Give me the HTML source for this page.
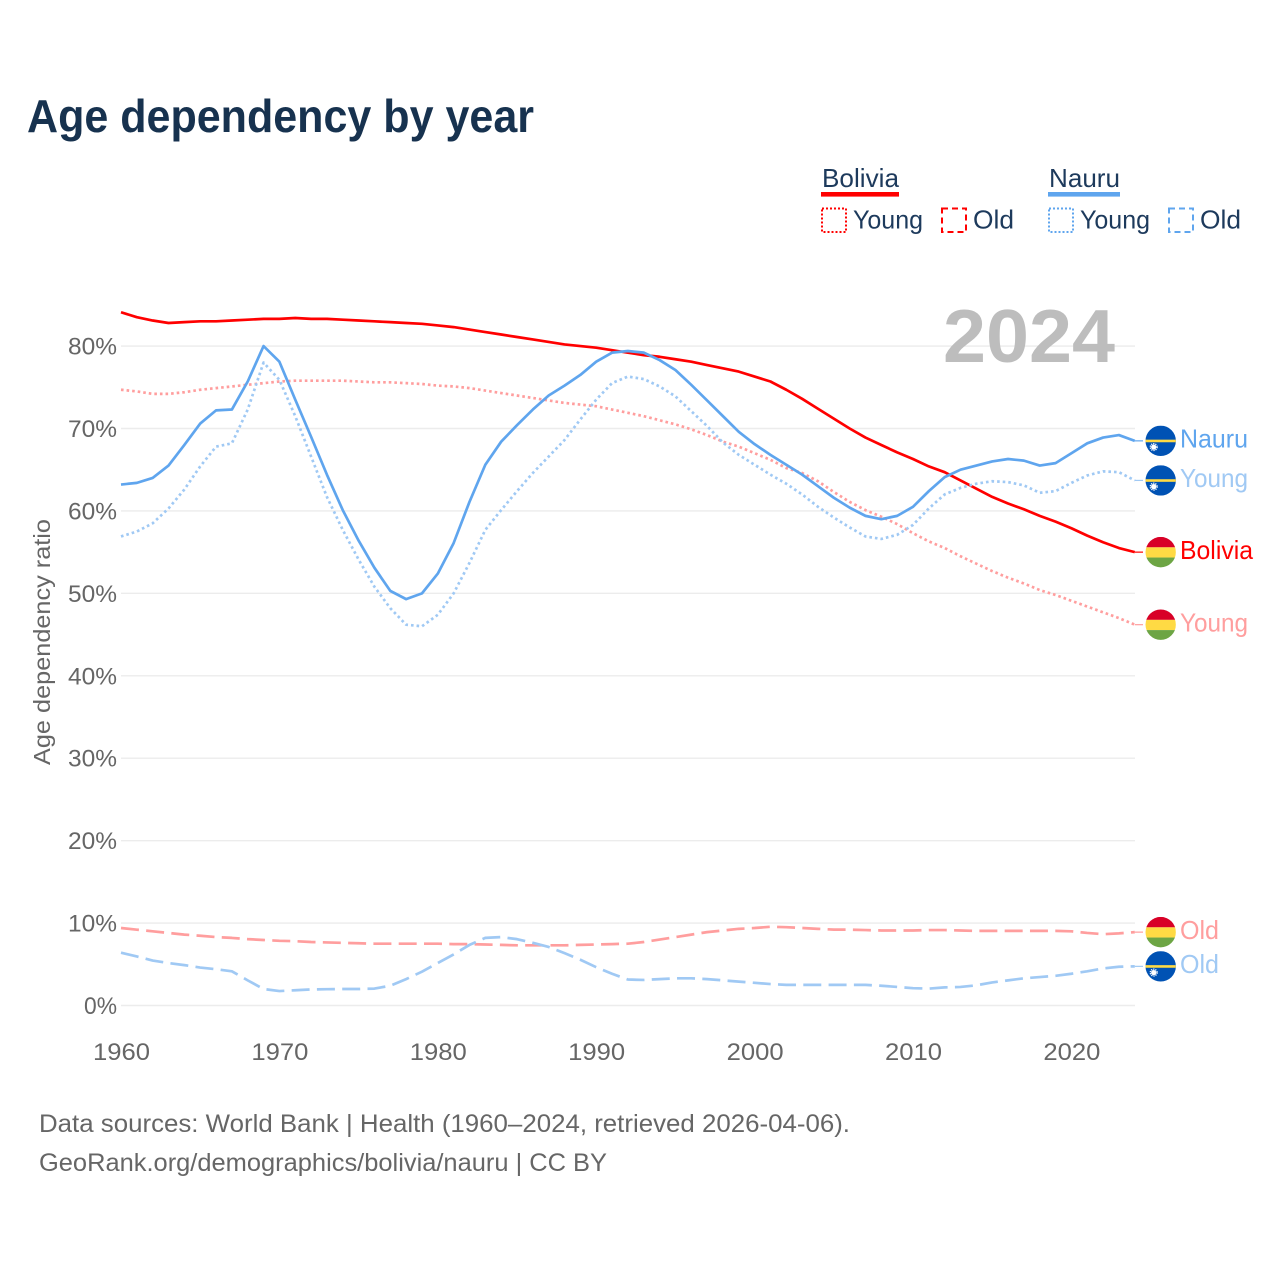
<!DOCTYPE html>
<html lang="en">
<head>
<meta charset="utf-8">
<title>Age dependency by year</title>
<style>
html,body{margin:0;padding:0;background:#fff;}
svg{display:block;font-family:"Liberation Sans",sans-serif;}
</style>
</head>
<body>
<svg id="chart" xmlns="http://www.w3.org/2000/svg" width="1280" height="1280" viewBox="0 0 1280 1280">
  <rect x="0" y="0" width="1280" height="1280" fill="#fff"/>
  <text x="27" y="132" font-size="46" font-weight="700" fill="#17324f" textLength="507" lengthAdjust="spacingAndGlyphs">Age dependency by year</text>

  <g font-size="26" fill="#1d3a5c">
    <text x="822" y="187" textLength="77" lengthAdjust="spacingAndGlyphs">Bolivia</text>
    <rect x="821" y="192" width="78" height="4.6" fill="#ff0000"/>
    <rect x="822" y="208.5" width="24" height="23.5" fill="none" stroke="#ff0000" stroke-width="2" stroke-dasharray="2 2"/>
    <text x="853" y="228.5" textLength="70" lengthAdjust="spacingAndGlyphs">Young</text>
    <rect x="942" y="208.5" width="24" height="23.5" fill="none" stroke="#ff0000" stroke-width="2" stroke-dasharray="6 4"/>
    <text x="973" y="228.5" textLength="41" lengthAdjust="spacingAndGlyphs">Old</text>
    <text x="1049" y="187" textLength="71" lengthAdjust="spacingAndGlyphs">Nauru</text>
    <rect x="1048" y="192" width="72" height="4.6" fill="#5fa5ee"/>
    <rect x="1049" y="208.5" width="24" height="23.5" fill="none" stroke="#5fa5ee" stroke-width="2" stroke-dasharray="2 2"/>
    <text x="1080" y="228.5" textLength="70" lengthAdjust="spacingAndGlyphs">Young</text>
    <rect x="1169" y="208.5" width="24" height="23.5" fill="none" stroke="#5fa5ee" stroke-width="2" stroke-dasharray="6 4"/>
    <text x="1200" y="228.5" textLength="41" lengthAdjust="spacingAndGlyphs">Old</text>
  </g>

  <g id="grid"></g>
  <text x="943" y="362" font-size="75" font-weight="700" fill="#bdbdbd" textLength="172" lengthAdjust="spacingAndGlyphs">2024</text>
  <g id="yticks" font-size="24" fill="#666"></g>
  <g id="xticks" font-size="24" fill="#666"></g>
  <text transform="translate(50,642) rotate(-90)" text-anchor="middle" font-size="23.5" fill="#666" textLength="246" lengthAdjust="spacingAndGlyphs">Age dependency ratio</text>
  <g id="series"></g>
  <g id="endlabels"></g>

  <text x="39" y="1132" font-size="25" fill="#666" textLength="811" lengthAdjust="spacingAndGlyphs">Data sources: World Bank | Health (1960–2024, retrieved 2026-04-06).</text>
  <text x="39" y="1171" font-size="25" fill="#666" textLength="568" lengthAdjust="spacingAndGlyphs">GeoRank.org/demographics/bolivia/nauru | CC BY</text>
</svg>

<script>
var startYear = 1960;
var boliviaTotal = [84.1,83.5,83.1,82.8,82.9,83.0,83.0,83.1,83.2,83.3,83.3,83.4,83.3,83.3,83.2,83.1,83.0,82.9,82.8,82.7,82.5,82.3,82.0,81.7,81.4,81.1,80.8,80.5,80.2,80.0,79.8,79.5,79.2,78.9,78.7,78.4,78.1,77.7,77.3,76.9,76.3,75.7,74.7,73.6,72.4,71.2,70.0,68.9,68.0,67.1,66.3,65.4,64.7,63.7,62.7,61.7,60.9,60.2,59.4,58.7,57.9,57.0,56.2,55.5,55.0];
var boliviaYoung = [74.7,74.5,74.2,74.2,74.4,74.7,74.9,75.1,75.3,75.5,75.7,75.8,75.8,75.8,75.8,75.7,75.6,75.6,75.5,75.4,75.2,75.1,74.9,74.6,74.3,74.0,73.7,73.4,73.1,72.9,72.7,72.3,71.9,71.5,71.0,70.5,69.9,69.2,68.4,67.8,67.0,66.2,65.2,64.6,63.6,62.3,61.1,60.1,59.3,58.4,57.3,56.3,55.5,54.5,53.6,52.7,51.9,51.2,50.4,49.8,49.1,48.4,47.7,47.0,46.2];
var boliviaOld = [9.4,9.2,9.0,8.8,8.6,8.46,8.3,8.2,8.05,7.95,7.85,7.8,7.7,7.65,7.6,7.55,7.5,7.5,7.5,7.5,7.5,7.45,7.45,7.4,7.35,7.3,7.3,7.3,7.3,7.35,7.4,7.45,7.5,7.7,8.0,8.3,8.6,8.9,9.1,9.3,9.4,9.55,9.5,9.4,9.3,9.2,9.2,9.15,9.1,9.1,9.1,9.15,9.15,9.1,9.05,9.05,9.05,9.05,9.05,9.05,9.0,8.8,8.65,8.75,8.9];
var nauruTotal = [63.2,63.4,64.0,65.5,68.0,70.6,72.2,72.3,75.7,80.0,78.1,73.5,69.0,64.4,60.1,56.4,53.1,50.3,49.3,50.0,52.4,56.1,61.1,65.6,68.4,70.4,72.3,74.0,75.2,76.5,78.1,79.2,79.4,79.2,78.3,77.1,75.3,73.4,71.5,69.6,68.1,66.8,65.6,64.4,63.0,61.6,60.4,59.4,59.0,59.4,60.5,62.4,64.1,65.0,65.5,66.0,66.3,66.1,65.5,65.8,67.0,68.2,68.9,69.2,68.5];
var nauruYoung = [56.9,57.5,58.5,60.3,62.6,65.4,67.8,68.2,72.3,78.0,75.9,71.5,66.6,61.7,57.7,54.1,50.8,48.2,46.2,46.0,47.4,50.0,53.7,57.7,60.1,62.4,64.6,66.6,68.6,71.1,73.5,75.5,76.3,76.0,75.1,73.9,72.1,70.3,68.3,66.8,65.6,64.4,63.3,62.0,60.5,59.2,58.0,56.9,56.6,57.1,58.3,60.3,62.0,62.8,63.3,63.6,63.5,63.1,62.2,62.4,63.4,64.3,64.8,64.7,63.7];
var nauruOld = [6.4,5.95,5.45,5.15,4.9,4.6,4.4,4.15,3.05,2.0,1.75,1.85,1.95,1.98,2.0,2.0,2.05,2.4,3.2,4.1,5.15,6.2,7.35,8.2,8.3,8.05,7.6,7.1,6.35,5.55,4.65,3.85,3.15,3.1,3.2,3.3,3.3,3.2,3.05,2.9,2.75,2.6,2.5,2.5,2.5,2.5,2.5,2.5,2.4,2.25,2.1,2.05,2.2,2.25,2.45,2.8,3.05,3.3,3.45,3.6,3.85,4.15,4.5,4.7,4.75];
var yTickValues = [0,10,20,30,40,50,60,70,80];
var xTickValues = [1960,1970,1980,1990,2000,2010,2020];

var SVG_NS = 'http://www.w3.org/2000/svg';
function xScale(year){ return 121 + (year - 1960) * 15.84; }
function yScale(v){ return 1005.5 - v * 8.243; }
function make(tag, attrs, parent){
  var el = document.createElementNS(SVG_NS, tag);
  for (var k in attrs) el.setAttribute(k, attrs[k]);
  parent.appendChild(el);
  return el;
}

var gridG = document.getElementById('grid');
var yG = document.getElementById('yticks');
yTickValues.forEach(function(v){
  var line = make('line', {x1:121, x2:1135, y1:yScale(v), y2:yScale(v), stroke:'#ececec', 'stroke-width':1.4}, gridG);
  
  
  var t = make('text', {x:117, y:yScale(v)+8.5, 'text-anchor':'end', textLength:(v === 0 ? 33 : 49), lengthAdjust:'spacingAndGlyphs'}, yG);
  
  
  t.textContent = v + '%';
});
var xG = document.getElementById('xticks');
xTickValues.forEach(function(y){
  var t = make('text', {x:xScale(y)+0.5, y:1060, 'text-anchor':'middle', textLength:57, lengthAdjust:'spacingAndGlyphs'}, xG);
  
  
  t.textContent = y;
});

var seriesDefs = [
  {key:'bolivia-old', values:boliviaOld, color:'#ff9e9e', dash:'18 7.3', flag:'bolivia', label:'Old', len:39},
  {key:'nauru-old', values:nauruOld, color:'#a0c9f4', dash:'18 7.3', flag:'nauru', label:'Old', len:39},
  {key:'bolivia-young', values:boliviaYoung, color:'#ff9e9e', dash:'2.6 3', flag:'bolivia', label:'Young', len:68},
  {key:'bolivia-total', values:boliviaTotal, color:'#ff0000', dash:'', flag:'bolivia', label:'Bolivia', len:73},
  {key:'nauru-young', values:nauruYoung, color:'#a0c9f4', dash:'2.6 3', flag:'nauru', label:'Young', len:68},
  {key:'nauru-total', values:nauruTotal, color:'#5fa5ee', dash:'', flag:'nauru', label:'Nauru', len:68}
];

var seriesG = document.getElementById('series');
var labelsG = document.getElementById('endlabels');
var defs = make('defs', {}, document.getElementById('chart'));
seriesDefs.forEach(function(s, i){
  var d = s.values.map(function(v, j){
    return (j ? 'L' : 'M') + xScale(startYear + j).toFixed(2) + ' ' + yScale(v).toFixed(2);
  }).join(' ');
  var attrs = {d:d, fill:'none', stroke:s.color, 'stroke-width':2.7, 'stroke-linejoin':'round'};
  if (s.dash) attrs['stroke-dasharray'] = s.dash;
  var path = make('path', attrs, seriesG);
  
  

  var last = s.values[s.values.length - 1];
  var ly = yScale(last);
  var lastX = xScale(startYear + s.values.length - 1);
  var conn = make('line', {x1:lastX, x2:1143, y1:ly, y2:ly, stroke:s.color, 'stroke-width':1.2}, labelsG);
  
  

  var cx = 1160.7, r = 15.2;
  var clip = make('clipPath', {id:'clip' + i}, defs);
  make('circle', {cx:cx, cy:ly, r:r}, clip);
  var flag = make('g', {'clip-path':'url(#clip' + i + ')'}, labelsG);
  
  
  if (s.flag === 'bolivia') {
    make('rect', {x:cx-r, y:ly-r, width:2*r, height:10.4, fill:'#d80027'}, flag);
    make('rect', {x:cx-r, y:ly-r+10.4, width:2*r, height:10.2, fill:'#ffda44'}, flag);
    make('rect', {x:cx-r, y:ly-r+20.6, width:2*r, height:10, fill:'#6da544'}, flag);
  } else {
    make('rect', {x:cx-r, y:ly-r, width:2*r, height:2*r, fill:'#0052b4'}, flag);
    make('rect', {x:cx-r, y:ly-1.2, width:2*r, height:2.6, fill:'#ffda44'}, flag);
    make('circle', {cx:cx-7, cy:ly+6.2, r:2.6, fill:'#fff'}, flag);
    make('circle', {cx:cx-7, cy:ly+6.2, r:3.4, fill:'none', stroke:'#fff', 'stroke-width':1.4, 'stroke-dasharray':'1.2 1'}, flag);
  }

  var t = make('text', {x:1180, y:ly+6.7, 'font-size':26, fill:s.color, textLength:s.len, lengthAdjust:'spacingAndGlyphs'}, labelsG);
  
  
  t.textContent = s.label;
});
</script>
</body>
</html>
